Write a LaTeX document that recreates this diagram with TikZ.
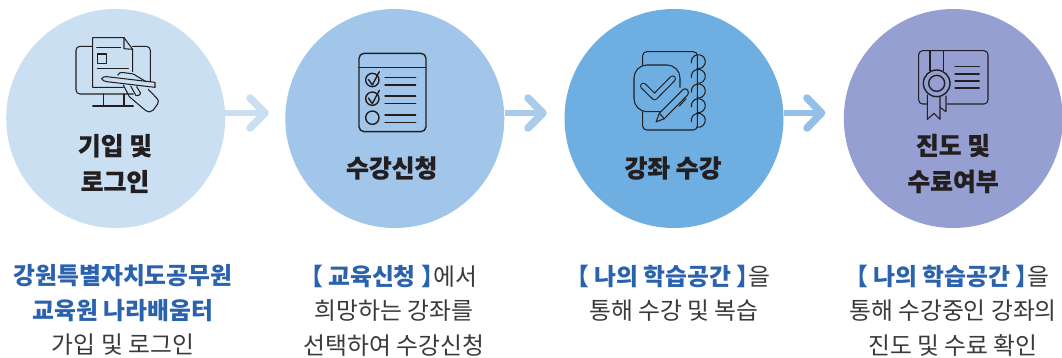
\documentclass[tikz,border=0pt]{standalone}
\usepackage{fontspec}
\setmainfont{Noto Sans CJK KR}
\newfontfamily\heavyfont{Noto Sans CJK KR}[BoldFeatures={FakeBold=0.6}]
\definecolor{cA}{HTML}{CBDFF3}
\definecolor{cB}{HTML}{A1C6EA}
\definecolor{cC}{HTML}{6FAEE0}
\definecolor{cD}{HTML}{959FD1}
\definecolor{arA}{HTML}{CBDFF3}
\definecolor{arB}{HTML}{A9CBEC}
\definecolor{arC}{HTML}{93BFE8}
\definecolor{ink}{HTML}{231F20}
\definecolor{blueT}{HTML}{2B62AE}
\definecolor{greyT}{HTML}{3A3A3A}
\tikzset{
 stepcircle/.style={circle,minimum size=219pt,inner sep=0pt,draw=none},
 titletext/.style={font=\fontsize{24.8}{36}\selectfont\heavyfont\bfseries,text=ink,align=center,inner sep=0pt,anchor=center},
 desc/.style={font=\fontsize{23.8}{34.5}\selectfont,text=greyT,align=center,inner sep=0pt,anchor=north},
 shaft/.style={line width=6.5pt},
 chev/.style={line width=7.5pt,line cap=round,line join=round},
 icon/.style={draw=ink,line width=1.05pt,line join=round,line cap=round,fill=none},
 iconb/.style={draw=ink,line width=1.4pt,line join=round,line cap=round,fill=none}
}
\newcommand{\bl}[1]{{\bfseries\textcolor{blueT}{#1}}}
\newcommand{\br}[1]{{\bfseries\textcolor{blueT}{\kern-0.5em【 #1 】\kern-0.5em}}}
\newcommand{\ring}[1]{\draw[icon] (415,#1) ++(170:21) arc[start angle=170,end angle=460,radius=21];}
\begin{document}
\begin{tikzpicture}[x=1pt,y=-1pt]
\useasboundingbox (0,0) rectangle (1062,357);
\fill[white] (0,0) rectangle (1062,357);
\coordinate (t1) at (265,113);
\coordinate (t2) at (543,113);
\coordinate (t3) at (821.5,113);
\coordinate (u1) at (250,98);\coordinate (v1) at (250,128);
\coordinate (u2) at (528,98);\coordinate (v2) at (528,128);
\coordinate (u3) at (807,98);\coordinate (v3) at (807,128);
\node[stepcircle,fill=cA] (c1) at (115.7,118.5) {};
\node[stepcircle,fill=cB] (c2) at (394.8,118.5) {};
\node[stepcircle,fill=cC] (c3) at (674,118.5) {};
\node[stepcircle,fill=cD] (c4) at (953.3,118.5) {};
\draw[arA,shaft] (c1.east |- t1) -- (t1);
\draw[arA,chev] (u1) -- (t1) -- (v1);
\draw[arB,shaft] (c2.east |- t2) -- (t2);
\draw[arB,chev] (u2) -- (t2) -- (v2);
\draw[arC,shaft] (c3.east |- t3) -- (t3);
\draw[arC,chev] (u3) -- (t3) -- (v3);
% icon 1: monitor, form, hand with pen
\begin{scope}[scale=1/3]
\draw[icon,rounded corners=4pt] (277,139) -- (228,139) -- (228,282) -- (400,282);
\draw[icon,rounded corners=4pt] (398,139) -- (451,139) -- (451,245);
\draw[icon] (310,282) -- (310,318) (372,282) -- (372,318) (278,318) -- (400,318);
\draw[icon] (370,262) -- (278,262) -- (278,113) -- (372,113) -- (398,148) -- (398,215);
\draw[icon] (372,113) -- (372,146) -- (398,148);
\draw[icon] (290,143) -- (362,143) (292,205) -- (385,205);
\draw[icon] (293,162) rectangle (320,190);
\draw[icon] (305,236) .. controls (308,230) and (315,230) .. (320,230) -- (465,247) -- (465,262) -- (320,245) .. controls (313,244) and (307,241) .. (305,236) -- cycle;
\draw[icon] (353,226) .. controls (355,218) and (362,217) .. (372,218) -- (400,222) -- (438,245);
\draw[icon] (370,255) -- (388,290) -- (435,330) .. controls (445,338) and (455,337) .. (460,330) -- (473,312) .. controls (478,305) and (475,300) .. (468,292) -- (445,268);
\draw[icon] (392,258) -- (408,287) .. controls (413,289) and (420,285) .. (422,280) -- (410,260);
\end{scope}
\begin{scope}[xshift=280pt,scale=1/3]
\draw[iconb,rounded corners=5pt] (237,160) rectangle (438,395);
\draw[iconb] (237,203) -- (438,203);
\draw[iconb] (277,240) circle[radius=20] (277,296) circle[radius=20] (277,353) circle[radius=20];
\draw[iconb] (265,238) -- (277,255) -- (298,215) (265,294) -- (277,311) -- (298,271);
\draw[iconb] (315,232) -- (407,232) (315,255) -- (407,255) (315,288) -- (407,288) (315,311) -- (407,311) (315,345) -- (407,345) (315,368) -- (407,368);
\end{scope}
\begin{scope}[xshift=560pt,scale=1/3]
\draw[icon,rounded corners=4pt] (248,195) -- (248,155) -- (412,155) -- (412,390) -- (248,390) -- (248,335);
\ring{185}\ring{229}\ring{273}\ring{317}\ring{361}
\draw[icon,rounded corners=13pt] (360,262) -- (360,195) -- (222,195) -- (222,335) -- (305,335);
\draw[draw=ink,line width=1.1pt,double=cC,double distance=4.4pt,line cap=round,line join=round] (250,258) -- (284,291) -- (338,236);
\draw[icon,fill=cC] (288,366) -- (298,340) -- (368,270) .. controls (375,263) and (385,267) .. (385,278) .. controls (385,283) and (382,287) .. (378,290) -- (313,356) -- cycle;
\draw[icon] (298,340) -- (313,356) (358,318) -- (378,296);
\end{scope}
\begin{scope}[xshift=830pt,scale=1/3]
\draw[icon,rounded corners=4pt] (292,312) -- (266,312) -- (266,152) -- (474,152) -- (474,312) -- (352,312);
\draw[icon] (300,152) -- (300,212) (340,152) -- (340,212);
\draw[iconb] (320,250) circle[radius=40] (320,250) circle[radius=24];
\draw[icon] (292,285) -- (292,358) -- (312,340) -- (330,358) -- (330,290);
\draw[icon] (330,322) -- (348,335) -- (348,288);
\draw[icon] (375,200) -- (448,200) (375,222) -- (448,222) (375,243) -- (448,243) (375,264) -- (448,264);
\end{scope}
% titles
\node[titletext] (t1a) at (115,163.5) {기입 및\\로그인};
\node[titletext] (t2a) at (391.7,168) {수강신청};
\node[titletext] (t3a) at (673,168) {강좌 수강};
\node[titletext] (t4a) at (953,163.5) {진도 및\\수료여부};
% descriptions
\node[desc] (d1) at (123,264.5) {\bl{강원특별자치도공무원}\\\bl{교육원 나라배움터}\\가입 및 로그인};
\node[desc] (d2) at (394,264.5) {\br{교육신청}에서\\희망하는 강좌를\\선택하여 수강신청};
\node[desc] (d3) at (674,264.5) {\br{나의 학습공간}을\\통해 수강 및 복습};
\node[desc] (d4) at (953,264.5) {\br{나의 학습공간}을\\통해 수강중인 강좌의\\진도 및 수료 확인};
\end{tikzpicture}
\end{document}
